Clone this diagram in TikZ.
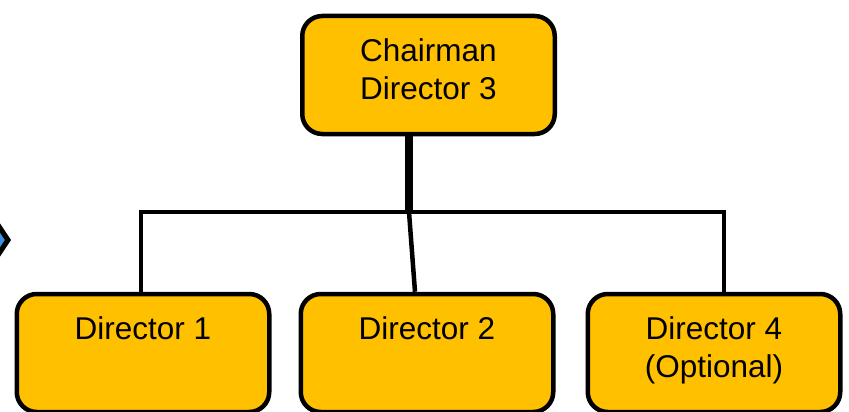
\documentclass[tikz,border=0pt]{standalone}
\usepackage{fontspec}
\setmainfont{Liberation Sans}
\usetikzlibrary{positioning}
\definecolor{boxgold}{HTML}{FFC000}
\definecolor{tipblue}{HTML}{3E8EDE}

\begin{document}
\begin{tikzpicture}[x=1pt, y=-1pt,
		member/.style={draw, line width=4.5pt, fill=boxgold, rounded corners=20pt, minimum width=252.5pt, minimum height=118pt, inner sep=0pt},
		caption/.style={align=center, inner sep=0pt, font=\fontsize{31.5}{37.5}\selectfont},
		link/.style={line width=4.5pt}]
			\useasboundingbox (0,0) rectangle (849,412);
			% boxes
			\node[member] (chair) at (428.5,75) {};
			\node[member] (dir1) at (143,353) {};
			\node[member] (dir2) at (427,353) {};
			\node[member] (dir4) at (714,353) {};
			\node[caption, below=25pt of chair.north] (chairtext) {Chairman\\Director 3};
			\node[caption, below=25pt of dir1.north] (dir1text) {Director 1};
			\node[caption, below=25pt of dir2.north] (dir2text) {Director 2};
			\node[caption, below=25pt of dir4.north] (dir4text) {Director 4\\(Optional)};
			% connectors
			\coordinate (split) at (409,212);
			\draw[line width=8pt] ([xshift=-19.5pt]chair.south) -- (split);
			\draw[link] ([xshift=-2pt]dir1.north) |- (split) -| ([xshift=10pt]dir4.north);
			\draw[link] (split) -- ([xshift=-12pt]dir2.north);
			% cut-off shape at the left edge
			\draw[line width=5pt, fill=tipblue] (8,240) -- (-10,267) -- (-28,240) -- (-10,213) -- cycle;
		\end{tikzpicture}
\end{document}
